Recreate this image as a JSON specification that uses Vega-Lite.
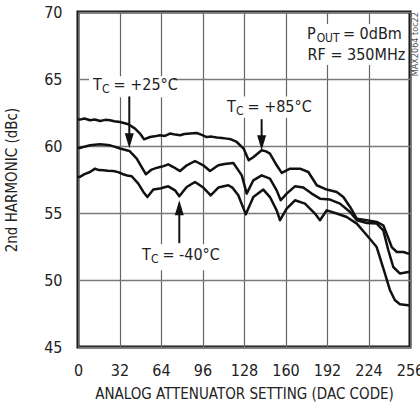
{
  "$schema": "https://vega.github.io/schema/vega-lite/v6.json",
  "width": 332,
  "height": 335,
  "autosize": "none",
  "padding": {"left": 78, "top": 12, "right": 10, "bottom": 63},
  "background": "white",
  "config": {
    "view": {"stroke": "#111", "strokeWidth": 3},
    "font": "'DejaVu Sans Condensed', Roboto, sans-serif",
    "text": {"font": "'DejaVu Sans Condensed', Roboto, sans-serif"},
    "axis": {
      "labelFont": "'DejaVu Sans Condensed', Roboto, sans-serif",
      "titleFont": "'DejaVu Sans Condensed', Roboto, sans-serif",
      "labelFontSize": 16,
      "titleFontSize": 15,
      "titleFontWeight": "normal",
      "labelColor": "#222",
      "titleColor": "#222",
      "domain": false,
      "ticks": false,
      "gridColor": "#7a7a7a",
      "gridWidth": 1.5,
      "gridOpacity": 1
    }
  },
  "datasets": {
    "curves": [
      {"code": 0, "dbc": 62.0, "temp": "+85°C"},
      {"code": 1.5, "dbc": 61.97, "temp": "+85°C"},
      {"code": 5, "dbc": 62.05, "temp": "+85°C"},
      {"code": 9.3, "dbc": 61.92, "temp": "+85°C"},
      {"code": 13, "dbc": 61.98, "temp": "+85°C"},
      {"code": 17, "dbc": 61.87, "temp": "+85°C"},
      {"code": 21, "dbc": 61.95, "temp": "+85°C"},
      {"code": 24.7, "dbc": 61.92, "temp": "+85°C"},
      {"code": 28, "dbc": 61.85, "temp": "+85°C"},
      {"code": 32.4, "dbc": 61.79, "temp": "+85°C"},
      {"code": 36, "dbc": 61.7, "temp": "+85°C"},
      {"code": 38.8, "dbc": 61.62, "temp": "+85°C"},
      {"code": 44, "dbc": 61.3, "temp": "+85°C"},
      {"code": 47.8, "dbc": 60.93, "temp": "+85°C"},
      {"code": 50.9, "dbc": 60.5, "temp": "+85°C"},
      {"code": 55.5, "dbc": 60.67, "temp": "+85°C"},
      {"code": 59, "dbc": 60.72, "temp": "+85°C"},
      {"code": 63.2, "dbc": 60.8, "temp": "+85°C"},
      {"code": 67, "dbc": 60.75, "temp": "+85°C"},
      {"code": 70.9, "dbc": 60.93, "temp": "+85°C"},
      {"code": 75, "dbc": 60.85, "temp": "+85°C"},
      {"code": 78.7, "dbc": 60.8, "temp": "+85°C"},
      {"code": 82, "dbc": 60.9, "temp": "+85°C"},
      {"code": 86.4, "dbc": 60.93, "temp": "+85°C"},
      {"code": 91.5, "dbc": 60.97, "temp": "+85°C"},
      {"code": 95, "dbc": 60.85, "temp": "+85°C"},
      {"code": 99.2, "dbc": 60.67, "temp": "+85°C"},
      {"code": 103, "dbc": 60.7, "temp": "+85°C"},
      {"code": 107, "dbc": 60.63, "temp": "+85°C"},
      {"code": 111, "dbc": 60.6, "temp": "+85°C"},
      {"code": 114.7, "dbc": 60.55, "temp": "+85°C"},
      {"code": 118, "dbc": 60.5, "temp": "+85°C"},
      {"code": 122.4, "dbc": 60.3, "temp": "+85°C"},
      {"code": 127.7, "dbc": 59.81, "temp": "+85°C"},
      {"code": 131.6, "dbc": 58.93, "temp": "+85°C"},
      {"code": 135.4, "dbc": 59.18, "temp": "+85°C"},
      {"code": 141.6, "dbc": 59.68, "temp": "+85°C"},
      {"code": 145, "dbc": 59.6, "temp": "+85°C"},
      {"code": 148, "dbc": 59.43, "temp": "+85°C"},
      {"code": 153.2, "dbc": 58.56, "temp": "+85°C"},
      {"code": 157.1, "dbc": 57.99, "temp": "+85°C"},
      {"code": 163.5, "dbc": 58.31, "temp": "+85°C"},
      {"code": 171.2, "dbc": 58.31, "temp": "+85°C"},
      {"code": 177.6, "dbc": 58.06, "temp": "+85°C"},
      {"code": 184.1, "dbc": 57.07, "temp": "+85°C"},
      {"code": 191.8, "dbc": 56.75, "temp": "+85°C"},
      {"code": 199.5, "dbc": 56.57, "temp": "+85°C"},
      {"code": 204.6, "dbc": 56.19, "temp": "+85°C"},
      {"code": 209.8, "dbc": 55.45, "temp": "+85°C"},
      {"code": 215, "dbc": 54.58, "temp": "+85°C"},
      {"code": 222.7, "dbc": 54.46, "temp": "+85°C"},
      {"code": 230.3, "dbc": 54.33, "temp": "+85°C"},
      {"code": 235.4, "dbc": 54.08, "temp": "+85°C"},
      {"code": 238, "dbc": 53.46, "temp": "+85°C"},
      {"code": 241.9, "dbc": 52.46, "temp": "+85°C"},
      {"code": 245.8, "dbc": 52.09, "temp": "+85°C"},
      {"code": 250.9, "dbc": 52.09, "temp": "+85°C"},
      {"code": 254.7, "dbc": 51.97, "temp": "+85°C"},
      {"code": 256, "dbc": 52.0, "temp": "+85°C"},
      {"code": 0, "dbc": 59.9, "temp": "+25°C"},
      {"code": 1.5, "dbc": 59.85, "temp": "+25°C"},
      {"code": 5, "dbc": 59.95, "temp": "+25°C"},
      {"code": 9.3, "dbc": 60.05, "temp": "+25°C"},
      {"code": 13, "dbc": 60.1, "temp": "+25°C"},
      {"code": 17, "dbc": 60.13, "temp": "+25°C"},
      {"code": 21, "dbc": 60.1, "temp": "+25°C"},
      {"code": 24.7, "dbc": 60.05, "temp": "+25°C"},
      {"code": 28, "dbc": 59.95, "temp": "+25°C"},
      {"code": 32.4, "dbc": 59.81, "temp": "+25°C"},
      {"code": 36, "dbc": 59.72, "temp": "+25°C"},
      {"code": 39.6, "dbc": 59.63, "temp": "+25°C"},
      {"code": 42, "dbc": 59.4, "temp": "+25°C"},
      {"code": 45.3, "dbc": 59.06, "temp": "+25°C"},
      {"code": 49.1, "dbc": 58.43, "temp": "+25°C"},
      {"code": 52.4, "dbc": 57.89, "temp": "+25°C"},
      {"code": 56.8, "dbc": 58.24, "temp": "+25°C"},
      {"code": 60, "dbc": 58.35, "temp": "+25°C"},
      {"code": 63.2, "dbc": 58.43, "temp": "+25°C"},
      {"code": 66, "dbc": 58.5, "temp": "+25°C"},
      {"code": 69.6, "dbc": 58.63, "temp": "+25°C"},
      {"code": 73.5, "dbc": 58.43, "temp": "+25°C"},
      {"code": 78.7, "dbc": 58.13, "temp": "+25°C"},
      {"code": 83.9, "dbc": 58.56, "temp": "+25°C"},
      {"code": 90.2, "dbc": 58.88, "temp": "+25°C"},
      {"code": 96.6, "dbc": 58.56, "temp": "+25°C"},
      {"code": 101.8, "dbc": 58.13, "temp": "+25°C"},
      {"code": 108.2, "dbc": 58.56, "temp": "+25°C"},
      {"code": 113, "dbc": 58.65, "temp": "+25°C"},
      {"code": 119.8, "dbc": 58.73, "temp": "+25°C"},
      {"code": 126.3, "dbc": 57.81, "temp": "+25°C"},
      {"code": 130.1, "dbc": 56.45, "temp": "+25°C"},
      {"code": 135.2, "dbc": 57.44, "temp": "+25°C"},
      {"code": 141.6, "dbc": 57.81, "temp": "+25°C"},
      {"code": 148, "dbc": 57.57, "temp": "+25°C"},
      {"code": 153.2, "dbc": 56.69, "temp": "+25°C"},
      {"code": 156.3, "dbc": 55.95, "temp": "+25°C"},
      {"code": 160.9, "dbc": 56.45, "temp": "+25°C"},
      {"code": 167.3, "dbc": 56.99, "temp": "+25°C"},
      {"code": 173.7, "dbc": 56.9, "temp": "+25°C"},
      {"code": 180.2, "dbc": 56.45, "temp": "+25°C"},
      {"code": 186.6, "dbc": 56.07, "temp": "+25°C"},
      {"code": 194.3, "dbc": 56.0, "temp": "+25°C"},
      {"code": 202, "dbc": 55.7, "temp": "+25°C"},
      {"code": 209.8, "dbc": 55.07, "temp": "+25°C"},
      {"code": 215, "dbc": 54.46, "temp": "+25°C"},
      {"code": 222.7, "dbc": 54.25, "temp": "+25°C"},
      {"code": 230.3, "dbc": 54.21, "temp": "+25°C"},
      {"code": 235.4, "dbc": 53.71, "temp": "+25°C"},
      {"code": 239.3, "dbc": 52.22, "temp": "+25°C"},
      {"code": 243.1, "dbc": 50.97, "temp": "+25°C"},
      {"code": 248.3, "dbc": 50.48, "temp": "+25°C"},
      {"code": 254.7, "dbc": 50.6, "temp": "+25°C"},
      {"code": 256, "dbc": 50.6, "temp": "+25°C"},
      {"code": 0, "dbc": 57.69, "temp": "-40°C"},
      {"code": 1.5, "dbc": 57.7, "temp": "-40°C"},
      {"code": 5, "dbc": 57.9, "temp": "-40°C"},
      {"code": 9.3, "dbc": 58.06, "temp": "-40°C"},
      {"code": 13.1, "dbc": 58.31, "temp": "-40°C"},
      {"code": 16, "dbc": 58.2, "temp": "-40°C"},
      {"code": 19.5, "dbc": 58.19, "temp": "-40°C"},
      {"code": 23, "dbc": 58.15, "temp": "-40°C"},
      {"code": 27.2, "dbc": 58.13, "temp": "-40°C"},
      {"code": 31, "dbc": 58.05, "temp": "-40°C"},
      {"code": 34.9, "dbc": 57.89, "temp": "-40°C"},
      {"code": 38, "dbc": 57.8, "temp": "-40°C"},
      {"code": 41.4, "dbc": 57.74, "temp": "-40°C"},
      {"code": 46.5, "dbc": 57.19, "temp": "-40°C"},
      {"code": 50.4, "dbc": 56.57, "temp": "-40°C"},
      {"code": 53.5, "dbc": 56.19, "temp": "-40°C"},
      {"code": 58.1, "dbc": 56.75, "temp": "-40°C"},
      {"code": 63.2, "dbc": 56.82, "temp": "-40°C"},
      {"code": 66, "dbc": 56.9, "temp": "-40°C"},
      {"code": 69.6, "dbc": 56.99, "temp": "-40°C"},
      {"code": 74.8, "dbc": 56.69, "temp": "-40°C"},
      {"code": 78.1, "dbc": 56.25, "temp": "-40°C"},
      {"code": 83.8, "dbc": 56.94, "temp": "-40°C"},
      {"code": 90.2, "dbc": 57.31, "temp": "-40°C"},
      {"code": 96.6, "dbc": 56.9, "temp": "-40°C"},
      {"code": 102.3, "dbc": 56.32, "temp": "-40°C"},
      {"code": 108.2, "dbc": 56.9, "temp": "-40°C"},
      {"code": 115.9, "dbc": 57.07, "temp": "-40°C"},
      {"code": 119, "dbc": 56.9, "temp": "-40°C"},
      {"code": 123.6, "dbc": 56.32, "temp": "-40°C"},
      {"code": 129.4, "dbc": 54.9, "temp": "-40°C"},
      {"code": 135.2, "dbc": 56.19, "temp": "-40°C"},
      {"code": 142.9, "dbc": 56.75, "temp": "-40°C"},
      {"code": 148, "dbc": 56.19, "temp": "-40°C"},
      {"code": 153.2, "dbc": 55.2, "temp": "-40°C"},
      {"code": 155.8, "dbc": 54.46, "temp": "-40°C"},
      {"code": 160.9, "dbc": 55.33, "temp": "-40°C"},
      {"code": 167.3, "dbc": 55.95, "temp": "-40°C"},
      {"code": 175, "dbc": 55.7, "temp": "-40°C"},
      {"code": 182.7, "dbc": 54.96, "temp": "-40°C"},
      {"code": 186.6, "dbc": 54.46, "temp": "-40°C"},
      {"code": 191.8, "dbc": 55.2, "temp": "-40°C"},
      {"code": 199.5, "dbc": 54.96, "temp": "-40°C"},
      {"code": 207.2, "dbc": 54.7, "temp": "-40°C"},
      {"code": 215, "dbc": 54.21, "temp": "-40°C"},
      {"code": 222.7, "dbc": 53.34, "temp": "-40°C"},
      {"code": 230.3, "dbc": 52.46, "temp": "-40°C"},
      {"code": 236.7, "dbc": 50.48, "temp": "-40°C"},
      {"code": 240.6, "dbc": 49.23, "temp": "-40°C"},
      {"code": 244.4, "dbc": 48.49, "temp": "-40°C"},
      {"code": 248.3, "dbc": 48.19, "temp": "-40°C"},
      {"code": 254.5, "dbc": 48.11, "temp": "-40°C"},
      {"code": 256, "dbc": 48.1, "temp": "-40°C"}
    ],
    "boxes": [
      {"x1": 8.5, "x2": 73.2, "y1": 65.2, "y2": 63.63},
      {"x1": 111.8, "x2": 176.6, "y1": 63.7, "y2": 62.1},
      {"x1": 46.3, "x2": 108.7, "y1": 52.66, "y2": 50.72},
      {"x1": 173.5, "x2": 251, "y1": 69.1, "y2": 66.05}
    ],
    "shafts": [
      {"x": 39.55, "y1": 63.7, "y2": 60.9},
      {"x": 141.6, "y1": 62.0, "y2": 60.75},
      {"x": 78.1, "y1": 52.75, "y2": 54.95}
    ],
    "heads": [
      {"x": 39.55, "y": 60.39, "dir": "down"},
      {"x": 141.6, "y": 60.24, "dir": "down"},
      {"x": 78.1, "y": 55.39, "dir": "up"}
    ],
    "labels": [
      {"x": 11.6, "y": 64.53, "text": "T", "kind": "main"},
      {"x": 18.6, "y": 64.53, "text": "C", "kind": "sub"},
      {"x": 27.4, "y": 64.53, "text": "= +25°C", "kind": "main"},
      {"x": 114.9, "y": 62.9, "text": "T", "kind": "main"},
      {"x": 121.9, "y": 62.9, "text": "C", "kind": "sub"},
      {"x": 130.7, "y": 62.9, "text": "= +85°C", "kind": "main"},
      {"x": 49.3, "y": 51.84, "text": "T", "kind": "main"},
      {"x": 56.3, "y": 51.84, "text": "C", "kind": "sub"},
      {"x": 65.1, "y": 51.84, "text": "= -40°C", "kind": "main"},
      {"x": 176.6, "y": 68.35, "text": "P", "kind": "main"},
      {"x": 184.0, "y": 68.35, "text": "OUT", "kind": "sub"},
      {"x": 204.3, "y": 68.35, "text": "= 0dBm", "kind": "main"},
      {"x": 177.0, "y": 66.78, "text": "RF = 350MHz", "kind": "main"}
    ],
    "tag": [
      {"x": 256, "y": 67.6, "text": "MAX2064 toc22"}
    ]
  },
  "layer": [
    {
      "data": {"name": "curves"},
      "mark": {"type": "line", "color": "#111", "strokeWidth": 2.5, "strokeJoin": "round", "clip": true},
      "encoding": {
        "x": {
          "field": "code", "type": "quantitative",
          "scale": {"domain": [0, 256], "nice": false, "zero": false},
          "axis": {
            "values": [0, 32, 64, 96, 128, 160, 192, 224, 256],
            "labelPadding": 15, "labelFlush": false,
            "title": "ANALOG ATTENUATOR SETTING (DAC CODE)", "titlePadding": 8,
            "gridColor": "#666", "gridWidth": 1.2
          }
        },
        "y": {
          "field": "dbc", "type": "quantitative",
          "scale": {"domain": [45, 70], "nice": false, "zero": false},
          "axis": {
            "values": [45, 50, 55, 60, 65, 70],
            "labelPadding": 16,
            "title": "2nd HARMONIC (dBc)", "titlePadding": 24
          }
        },
        "detail": {"field": "temp", "type": "nominal"}
      }
    },
    {
      "data": {"name": "boxes"},
      "mark": {"type": "rect", "fill": "white"},
      "encoding": {
        "x": {"field": "x1", "type": "quantitative", "scale": {"domain": [0, 256], "nice": false, "zero": false}},
        "x2": {"field": "x2"},
        "y": {"field": "y1", "type": "quantitative", "scale": {"domain": [45, 70], "nice": false, "zero": false}},
        "y2": {"field": "y2"}
      }
    },
    {
      "data": {"name": "shafts"},
      "mark": {"type": "rule", "color": "#111", "strokeWidth": 2},
      "encoding": {
        "x": {"field": "x", "type": "quantitative", "scale": {"domain": [0, 256], "nice": false, "zero": false}},
        "y": {"field": "y1", "type": "quantitative", "scale": {"domain": [45, 70], "nice": false, "zero": false}},
        "y2": {"field": "y2"}
      }
    },
    {
      "data": {"name": "heads"},
      "transform": [{"filter": "datum.dir === 'down'"}],
      "mark": {"type": "point", "filled": true, "color": "#111", "opacity": 1, "size": 225, "shape": "M-0.6,-1L0.6,-1L0,1Z"},
      "encoding": {
        "x": {"field": "x", "type": "quantitative", "scale": {"domain": [0, 256], "nice": false, "zero": false}},
        "y": {"field": "y", "type": "quantitative", "scale": {"domain": [45, 70], "nice": false, "zero": false}}
      }
    },
    {
      "data": {"name": "heads"},
      "transform": [{"filter": "datum.dir === 'up'"}],
      "mark": {"type": "point", "filled": true, "color": "#111", "opacity": 1, "size": 225, "shape": "M-0.6,1L0.6,1L0,-1Z"},
      "encoding": {
        "x": {"field": "x", "type": "quantitative", "scale": {"domain": [0, 256], "nice": false, "zero": false}},
        "y": {"field": "y", "type": "quantitative", "scale": {"domain": [45, 70], "nice": false, "zero": false}}
      }
    },
    {
      "data": {"name": "labels"},
      "transform": [{"filter": "datum.kind === 'main'"}],
      "mark": {"type": "text", "align": "left", "baseline": "middle", "fontSize": 16, "color": "#222"},
      "encoding": {
        "x": {"field": "x", "type": "quantitative", "scale": {"domain": [0, 256], "nice": false, "zero": false}},
        "y": {"field": "y", "type": "quantitative", "scale": {"domain": [45, 70], "nice": false, "zero": false}},
        "text": {"field": "text"}
      }
    },
    {
      "data": {"name": "labels"},
      "transform": [{"filter": "datum.kind === 'sub'"}],
      "mark": {"type": "text", "align": "left", "baseline": "middle", "fontSize": 12, "dy": 4, "color": "#222"},
      "encoding": {
        "x": {"field": "x", "type": "quantitative", "scale": {"domain": [0, 256], "nice": false, "zero": false}},
        "y": {"field": "y", "type": "quantitative", "scale": {"domain": [45, 70], "nice": false, "zero": false}},
        "text": {"field": "text"}
      }
    },
    {
      "data": {"name": "tag"},
      "mark": {"type": "text", "align": "center", "baseline": "middle", "angle": 270, "fontSize": 9, "dx": 0, "color": "#555"},
      "encoding": {
        "x": {"field": "x", "type": "quantitative", "scale": {"domain": [0, 256], "nice": false, "zero": false}},
        "y": {"field": "y", "type": "quantitative", "scale": {"domain": [45, 70], "nice": false, "zero": false}},
        "text": {"field": "text"},
        "xOffset": {"value": 5}
      }
    }
  ]
}
